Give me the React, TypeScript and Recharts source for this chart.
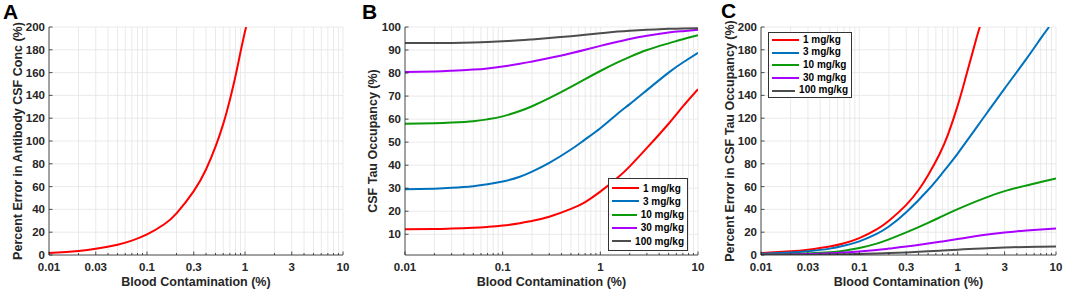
import React from 'react';
import { LineChart, Line, XAxis, YAxis, CartesianGrid, Legend } from 'recharts';

const FONT = '"Liberation Sans", Arial, Helvetica, sans-serif';
const INK = '#262626';
const GRID = '#e4e4e4';

// ---- tick labels ----
const xMajorAC = [0.01, 0.03, 0.1, 0.3, 1, 3, 10];
const xMajorB = [0.01, 0.1, 1, 10];
const xLogTicks = [
  0.01, 0.02, 0.03, 0.04, 0.05, 0.06, 0.07, 0.08, 0.09,
  0.1, 0.2, 0.3, 0.4, 0.5, 0.6, 0.7, 0.8, 0.9,
  1, 2, 3, 4, 5, 6, 7, 8, 9, 10,
];
const yTicksErr = [0, 20, 40, 60, 80, 100, 120, 140, 160, 180, 200];
const yTicksOcc = [10, 20, 30, 40, 50, 60, 70, 80, 90, 100];

// ---- legend ----
const doseLabels = ['1 mg/kg', '3 mg/kg', '10 mg/kg', '30 mg/kg', '100 mg/kg'];
const doseColors = ['#ff0000', '#0072bd', '#0a9a0a', '#aa00ff', '#4d4d4d'];

// ---- Panel A: percent error in antibody CSF conc ----
const xA = [0.01, 0.015, 0.02, 0.03, 0.05, 0.07, 0.1, 0.15, 0.2, 0.3, 0.4, 0.5, 0.6, 0.7, 0.8, 0.9, 1.0, 1.03];
const errA = [1.8, 2.7, 3.6, 5.5, 9, 12.6, 18, 27, 36.5, 56, 75, 95, 115, 136, 157, 178, 196, 200];

// ---- Panel B: CSF tau occupancy ----
const xB = [0.01, 0.02, 0.03, 0.05, 0.07, 0.1, 0.15, 0.2, 0.3, 0.5, 0.7, 1, 1.5, 2, 3, 5, 7, 10];
const occB1 = [12.2, 12.3, 12.5, 12.8, 13.2, 13.8, 14.8, 15.8, 17.6, 21, 24, 28.5, 34.5, 39.5, 47.5, 58, 65.5, 73];
const occB3 = [29.5, 29.8, 30.15, 30.9, 31.7, 32.9, 35.0, 37.2, 41, 46.8, 51.2, 56, 62.3, 66.5, 72.6, 80.2, 84.6, 88.8];
const occB10 = [58, 58.2, 58.5, 59.1, 59.9, 61.2, 63.5, 65.6, 69.1, 74, 77.4, 80.9, 84.6, 87, 90, 92.9, 94.7, 96.4];
const occB30 = [80.5, 80.7, 81, 81.5, 82, 82.8, 84, 85, 86.5, 88.6, 90.1, 91.8, 93.6, 94.8, 96.2, 97.6, 98.2, 98.8];
const occB100 = [93, 93, 93.1, 93.3, 93.5, 93.8, 94.2, 94.6, 95.2, 96, 96.6, 97.3, 98, 98.4, 98.8, 99.2, 99.4, 99.5];

// ---- Panel C: percent error in CSF tau occupancy ----
const xC1 = [0.01, 0.02, 0.03, 0.05, 0.07, 0.1, 0.15, 0.2, 0.3, 0.4, 0.5, 0.65, 0.8, 1, 1.2, 1.4, 1.55, 1.68];
const errC1 = [1.7, 3.2, 4.6, 7.4, 10.3, 14.8, 22.5, 30, 44, 57, 70, 88, 106, 131, 155, 176, 190, 200];
const xC3 = [0.01, 0.02, 0.03, 0.05, 0.07, 0.1, 0.15, 0.2, 0.3, 0.5, 0.7, 1, 1.5, 2, 3, 5, 7, 8.5];
const errC3 = [1.1, 2.2, 3.3, 5.6, 8.2, 12, 18.5, 25, 37.5, 57, 72, 89, 110, 125, 146, 172, 190, 200];
const xC = [0.01, 0.02, 0.03, 0.05, 0.07, 0.1, 0.15, 0.2, 0.3, 0.5, 0.7, 1, 1.5, 2, 3, 5, 7, 10];
const errC10 = [0.5, 0.9, 1.4, 2.4, 3.8, 6.1, 10, 13.7, 19.8, 28.2, 34.1, 40.2, 46.6, 50.8, 56, 61, 64.1, 67.1];
const errC30 = [0.3, 0.5, 0.9, 1.5, 2.1, 3.0, 4.4, 5.6, 7.4, 10, 11.9, 14, 16.4, 18, 19.8, 21.5, 22.4, 23.2];
const errC100 = [0.1, 0.1, 0.2, 0.4, 0.6, 0.9, 1.3, 1.7, 2.3, 3.2, 3.9, 4.7, 5.5, 6, 6.6, 7.1, 7.3, 7.5];

const pts = (xs: number[], ys: number[]) => xs.map((x, i) => ({ x, y: ys[i] }));

type Series = { name: string; color: string; data: { x: number; y: number }[] };

const seriesA: Series[] = [{ name: 'A', color: doseColors[0], data: pts(xA, errA) }];
const seriesB: Series[] = [
  { name: doseLabels[0], color: doseColors[0], data: pts(xB, occB1) },
  { name: doseLabels[1], color: doseColors[1], data: pts(xB, occB3) },
  { name: doseLabels[2], color: doseColors[2], data: pts(xB, occB10) },
  { name: doseLabels[3], color: doseColors[3], data: pts(xB, occB30) },
  { name: doseLabels[4], color: doseColors[4], data: pts(xB, occB100) },
];
const seriesC: Series[] = [
  { name: doseLabels[0], color: doseColors[0], data: pts(xC1, errC1) },
  { name: doseLabels[1], color: doseColors[1], data: pts(xC3, errC3) },
  { name: doseLabels[2], color: doseColors[2], data: pts(xC, errC10) },
  { name: doseLabels[3], color: doseColors[3], data: pts(xC, errC30) },
  { name: doseLabels[4], color: doseColors[4], data: pts(xC, errC100) },
];

const makeXTick = (majors: number[]) => (props: any) => {
  const { x, y, payload } = props;
  const v = payload.value;
  const major = majors.includes(v);
  return (
    <g>
      <line x1={x} x2={x} y1={y} y2={y - (major ? 3.5 : 2)} stroke={INK} strokeWidth={0.8} />
      {major && (
        <text x={x} y={y + 16} textAnchor="middle" fontSize={11.5} fontWeight="bold" fill={INK} fontFamily={FONT}>
          {String(v)}
        </text>
      )}
    </g>
  );
};

const YTick = (props: any) => {
  const { x, y, payload } = props;
  return (
    <g>
      <line x1={x} x2={x + 3.5} y1={y} y2={y} stroke={INK} strokeWidth={0.8} />
      <text x={x - 4} y={y + 4} textAnchor="end" fontSize={11.5} fontWeight="bold" fill={INK} fontFamily={FONT}>
        {String(payload.value)}
      </text>
    </g>
  );
};

const LegendBox = ({ rowH, padTop }: { rowH: number; padTop: number }) => (
  <div
    style={{
      border: '1px solid #333',
      background: '#fff',
      padding: `${padTop}px 3px ${padTop}px 3px`,
      fontFamily: FONT,
      fontWeight: 'bold',
      fontSize: 10,
      color: '#000',
      lineHeight: `${rowH}px`,
      boxSizing: 'border-box',
    }}
  >
    {doseLabels.map((name, i) => (
      <div key={name} style={{ display: 'flex', alignItems: 'center', height: rowH }}>
        <svg width={27} height={4} style={{ display: 'block' }}>
          <line x1={0} y1={2} x2={27} y2={2} stroke={doseColors[i]} strokeWidth={2} />
        </svg>
        <span style={{ marginLeft: 4, whiteSpace: 'nowrap' }}>{name}</span>
      </div>
    ))}
  </div>
);

type PanelProps = {
  left: number;
  width: number;
  mLeft: number;
  mRight: number;
  series: Series[];
  xMajor: number[];
  yTicks: number[];
  yDomain: [number, number];
  legend?: { left: number; top: number; width: number; rowH: number; padTop: number };
};

const Y_W = 40;
const X_H = 30;

function Panel({ left, width, mLeft, mRight, series, xMajor, yTicks, yDomain, legend }: PanelProps) {
  return (
    <div style={{ position: 'absolute', left, top: 0, width, height: 292 }}>
      <LineChart width={width} height={292} margin={{ top: 27, right: mRight, bottom: 37 - X_H, left: mLeft - Y_W }}>
        <CartesianGrid stroke={GRID} strokeWidth={0.8} />
        <XAxis
          dataKey="x"
          type="number"
          scale="log"
          domain={[0.01, 10]}
          allowDataOverflow
          ticks={xLogTicks}
          interval={0}
          height={X_H}
          tickSize={0}
          tickMargin={0}
          tickLine={false}
          tick={makeXTick(xMajor)}
          axisLine={{ stroke: INK, strokeWidth: 0.8 }}
        />
        <YAxis
          type="number"
          domain={yDomain}
          allowDataOverflow
          ticks={yTicks}
          interval={0}
          width={Y_W}
          tickSize={0}
          tickMargin={0}
          tickLine={false}
          tick={YTick}
          axisLine={{ stroke: INK, strokeWidth: 0.8 }}
        />
        {series.map((s) => (
          <Line
            key={s.name}
            data={s.data}
            dataKey="y"
            name={s.name}
            type="natural"
            stroke={s.color}
            strokeWidth={2}
            dot={false}
            activeDot={false}
            isAnimationActive={false}
          />
        ))}
        {legend && (
          <Legend
            layout="vertical"
            align="center"
            verticalAlign="middle"
            wrapperStyle={{ left: legend.left, top: legend.top, width: legend.width, right: 'auto', bottom: 'auto' }}
            content={() => <LegendBox rowH={legend.rowH} padTop={legend.padTop} />}
          />
        )}
      </LineChart>
    </div>
  );
}

const titleStyle = { fontFamily: FONT, fontWeight: 'bold' as const, fill: INK };

export default function App() {
  return (
    <div style={{ position: 'absolute', left: 0, top: 0, width: 1065, height: 292, background: '#fff', overflow: 'hidden' }}>
      <Panel left={0} width={355} mLeft={49} mRight={12} series={seriesA} xMajor={xMajorAC} yTicks={yTicksErr} yDomain={[0, 200]} />
      <Panel
        left={355}
        width={355}
        mLeft={50}
        mRight={12}
        series={seriesB}
        xMajor={xMajorB}
        yTicks={yTicksOcc}
        yDomain={[1, 100]}
        legend={{ left: 253, top: 178, width: 80, rowH: 13.3, padTop: 2.5 }}
      />
      <Panel
        left={710}
        width={355}
        mLeft={51}
        mRight={9}
        series={seriesC}
        xMajor={xMajorAC}
        yTicks={yTicksErr}
        yDomain={[0, 200]}
        legend={{ left: 58, top: 32, width: 84, rowH: 12.7, padTop: 0.5 }}
      />
      <svg width={1065} height={292} style={{ position: 'absolute', left: 0, top: 0, pointerEvents: 'none' }}>
        <text x={3} y={18.5} fontSize={21} {...titleStyle} fill="#000">A</text>
        <text x={362} y={18.5} fontSize={21} {...titleStyle} fill="#000">B</text>
        <text x={721} y={18} fontSize={21} {...titleStyle} fill="#000">C</text>
        <text x={196} y={286} fontSize={12.5} textAnchor="middle" {...titleStyle}>Blood Contamination (%)</text>
        <text x={551.5} y={286} fontSize={12.5} textAnchor="middle" {...titleStyle}>Blood Contamination (%)</text>
        <text x={908.5} y={286} fontSize={12.5} textAnchor="middle" {...titleStyle}>Blood Contamination (%)</text>
        <text x={0} y={0} fontSize={12.5} textAnchor="middle" dominantBaseline="central" transform="translate(18,141) rotate(-90)" {...titleStyle}>
          Percent Error in Antibody CSF Conc (%)
        </text>
        <text x={0} y={0} fontSize={12.5} textAnchor="middle" dominantBaseline="central" transform="translate(373,141) rotate(-90)" {...titleStyle}>
          CSF Tau Occupancy (%)
        </text>
        <text x={0} y={0} fontSize={12.5} textAnchor="middle" dominantBaseline="central" transform="translate(730,141) rotate(-90)" {...titleStyle}>
          Percent Error in CSF Tau Occupancy (%)
        </text>
      </svg>
    </div>
  );
}
